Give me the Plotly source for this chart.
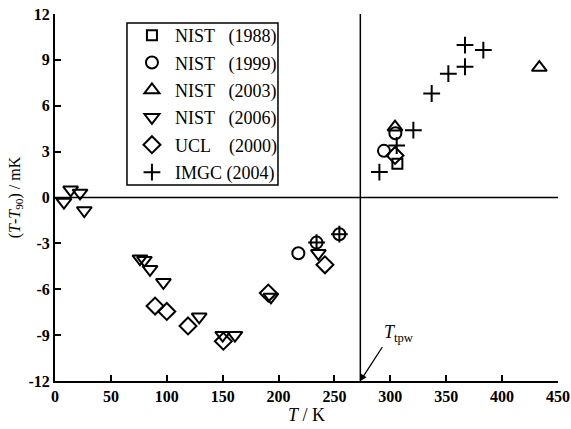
import plotly.graph_objects as go

# ---- data ----
nist1988_T = [306.3]
nist1988_d = [2.2]

nist1999_T = [217.7, 234.0, 254.4, 294.3, 304.5]
nist1999_d = [-3.65, -2.95, -2.4, 3.05, 4.2]

nist2003_T = [304.2, 433.3]
nist2003_d = [4.6, 8.5]

nist2006_T = [8.0, 14.0, 22.4, 26.2, 76.0, 80.0, 85.0, 97.0, 129.0, 150.0, 161.0, 193.2, 235.6]
nist2006_d = [-0.3, 0.5, 0.3, -0.85, -4.0, -4.1, -4.7, -5.55, -7.8, -9.0, -9.0, -6.5, -3.65]

ucl2000_T = [89.5, 100.0, 119.0, 150.6, 190.8, 241.5, 304.2]
ucl2000_d = [-7.1, -7.45, -8.4, -9.4, -6.25, -4.4, 2.75]

imgc2004_T = [234.0, 254.4, 290.2, 305.7, 320.6, 337.0, 351.9, 366.8, 366.8, 383.2]
imgc2004_d = [-2.95, -2.4, 1.66, 3.4, 4.4, 6.8, 8.1, 8.55, 9.97, 9.64]

T_TPW = 273.16

x_ticks = [0, 50, 100, 150, 200, 250, 300, 350, 400, 450]
y_ticks = [12, 9, 6, 3, 0, -3, -6, -9, -12]
y_ticktext = ["12", "9", "6", "3", "0", "-3", "-6", "-9", "-12"]

NB = "\u00a0"
series = [
    ("NIST" + NB * 3 + "(1988)", nist1988_T, nist1988_d, "square-open", 10),
    ("NIST" + NB * 3 + "(1999)", nist1999_T, nist1999_d, "circle-open", 12),
    ("NIST" + NB * 3 + "(2003)", nist2003_T, nist2003_d, "triangle-up-open", 13),
    ("NIST" + NB * 3 + "(2006)", nist2006_T, nist2006_d, "triangle-down-open", 13),
    ("UCL" + NB * 4 + "(2000)", ucl2000_T, ucl2000_d, "diamond-open", 13),
    ("IMGC" + NB + "(2004)", imgc2004_T, imgc2004_d, "cross-thin-open", 12),
]

FONT = "Liberation Serif"

fig = go.Figure()
for i, (name, xs, ys, sym, sz) in enumerate(series):
    fig.add_trace(go.Scatter(
        x=xs, y=ys, mode="markers", name=name, legendgroup=f"g{i}",
        marker=dict(symbol=sym, size=sz, color="black",
                    line=dict(color="black", width=2)),
    ))

fig.add_shape(type="line", xref="x", yref="y", x0=0, x1=450, y0=0, y1=0,
              line=dict(color="black", width=1.5))
fig.add_shape(type="line", xref="x", yref="y", x0=T_TPW, x1=T_TPW, y0=-12, y1=12,
              line=dict(color="black", width=1.5))
# legend frame
fig.add_shape(type="rect", xref="paper", yref="paper",
              x0=0.1431, x1=0.4433, y0=0.534, y1=0.9755,
              line=dict(color="black", width=1.5), fillcolor="rgba(0,0,0,0)")

fig.add_annotation(x=T_TPW, y=-12, xref="x", yref="y",
                   text="<i>T</i><sub>tpw</sub>", showarrow=True,
                   arrowhead=2, arrowsize=1, arrowwidth=1.3, arrowcolor="black",
                   ax=22, ay=-34, xanchor="left", yanchor="bottom",
                   font=dict(family=FONT, size=18, color="black"))

axis_common = dict(showline=True, linecolor="black", linewidth=2,
                   ticks="inside", ticklen=6, tickwidth=1.5, tickcolor="black",
                   showgrid=False, zeroline=False, mirror=False, automargin=False,
                   tickfont=dict(family=FONT, size=16, color="black", weight="bold"))

fig.update_xaxes(range=[0, 450], tickvals=x_ticks, **axis_common,
                 title=dict(text="<i>T</i> / K", standoff=2,
                            font=dict(family=FONT, size=18, color="black")))
fig.update_yaxes(range=[-12, 12], tickvals=y_ticks, ticktext=y_ticktext, **axis_common,
                 title=dict(text="(<i>T</i>-<i>T</i><sub>90</sub>) / mK", standoff=4,
                            font=dict(family=FONT, size=16, color="black")))

fig.update_layout(
    width=571, height=429,
    margin=dict(l=55, r=13, t=14, b=48),
    paper_bgcolor="white", plot_bgcolor="white",
    font=dict(family=FONT, color="black"),
    legend=dict(x=0.147, y=0.992, xanchor="left", yanchor="top",
                borderwidth=0, bgcolor="rgba(0,0,0,0)",
                font=dict(family=FONT, size=18, color="black"),
                tracegroupgap=1, itemwidth=36),
)

fig.write_html("out.html", config={"displayModeBar": False},
               post_script="document.body.style.margin='0px';document.body.style.overflow='hidden';")
